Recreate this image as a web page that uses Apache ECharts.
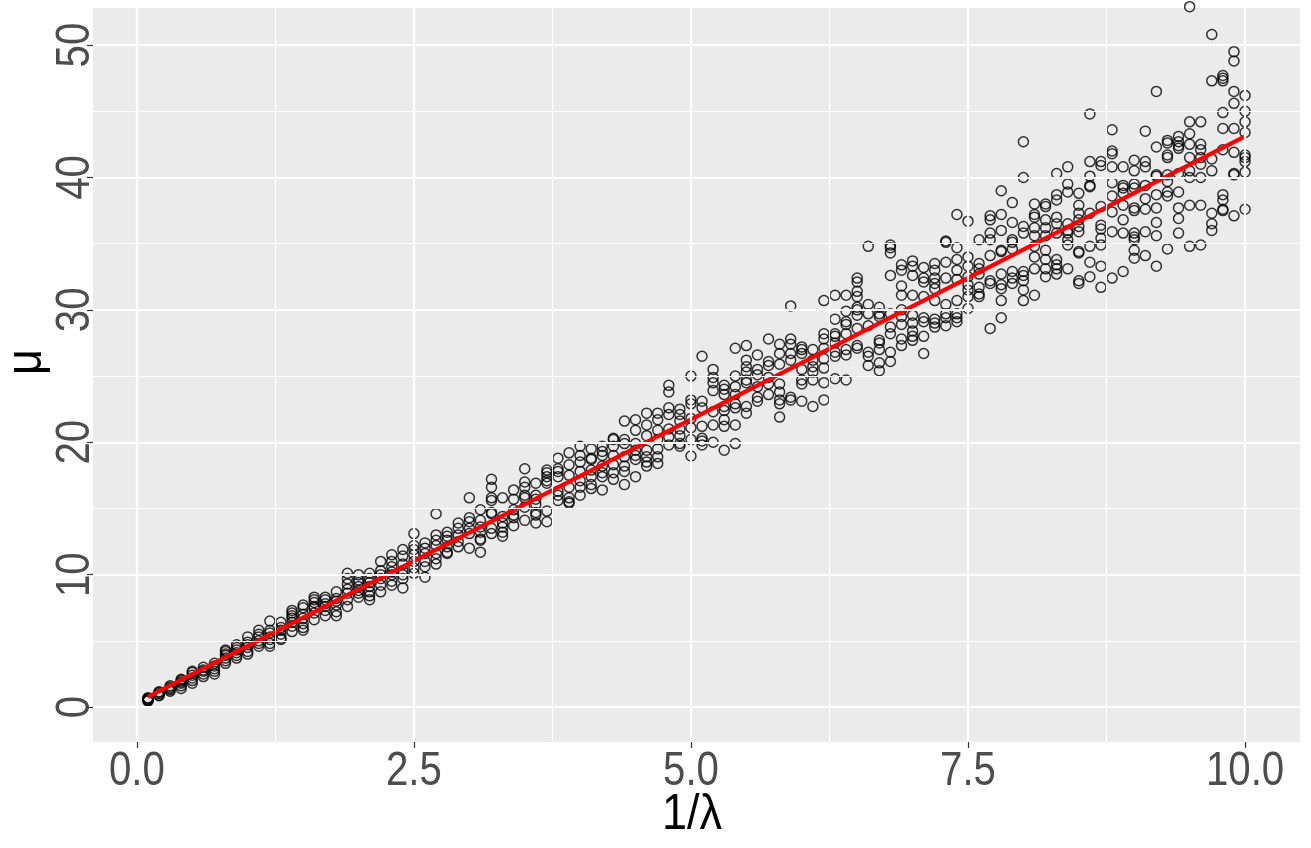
<!DOCTYPE html>
<html>
<head>
<meta charset="utf-8">
<title>mu vs 1/lambda</title>
<script src="https://cdn.jsdelivr.net/npm/echarts@6.0.0/dist/echarts.min.js"></script>
<style>
html,body{margin:0;padding:0;background:#fff;}
#main{width:1311px;height:848px;}
</style>
</head>
<body>
<div id="main"></div>
<script>
// x positions of the point columns (1/lambda)
var lambdaInv = [0.1,0.2,0.3,0.4,0.5,0.6,0.7,0.8,0.9,1.0,
    1.1,1.2,1.3,1.4,1.5,1.6,1.7,1.8,1.9,2.0,
    2.1,2.2,2.3,2.4,2.5,2.6,2.7,2.8,2.9,3.0,
    3.1,3.2,3.3,3.4,3.5,3.6,3.7,3.8,3.9,4.0,
    4.1,4.2,4.3,4.4,4.5,4.6,4.7,4.8,4.9,5.0,
    5.1,5.2,5.3,5.4,5.5,5.6,5.7,5.8,5.9,6.0,
    6.1,6.2,6.3,6.4,6.5,6.6,6.7,6.8,6.9,7.0,
    7.1,7.2,7.3,7.4,7.5,7.6,7.7,7.8,7.9,8.0,
    8.1,8.2,8.3,8.4,8.5,8.6,8.7,8.8,8.9,9.0,
    9.1,9.2,9.3,9.4,9.5,9.6,9.7,9.8,9.9,10.0];

// mu values
var muValues = [
    [0.45,0.5,0.55,0.6,0.65,0.7],
    [0.85,0.9,1.0,1.1,1.15],
    [1.2,1.3,1.4,1.5,1.6],
    [1.4,1.6,1.8,1.9,2.0,2.1],
    [1.8,2.0,2.2,2.4,2.6,2.7],
    [2.3,2.5,2.7,2.8,3.0],
    [2.5,2.7,2.9,3.1,3.3],
    [3.3,3.5,3.7,3.9,4.0,4.2,4.3],
    [3.7,3.9,4.1,4.3,4.5,4.7],
    [4.0,4.2,4.5,4.7,4.9,5.3],
    [4.6,4.8,5.0,5.3,5.5,5.8],
    [4.6,4.8,5.1,5.3,5.6,5.8,6.5],
    [5.1,5.2,5.5,5.8,6.0,6.4],
    [5.7,6.1,6.4,6.7,6.9,7.1,7.3],
    [5.8,6.0,6.3,6.7,7.0,7.5,7.7],
    [6.6,7.1,7.5,7.6,7.9,8.1,8.3],
    [6.9,7.3,7.6,7.8,8.1,8.3],
    [6.9,7.2,7.7,8.0,8.2,8.7],
    [7.6,8.1,8.6,8.9,9.3,9.7,10.1],
    [8.3,8.6,8.8,9.1,9.4,9.6,10.0],
    [8.1,8.4,8.7,9.1,9.4,9.7,10.1],
    [8.7,9.2,9.7,10.0,10.3,11.0],
    [9.2,9.5,10.0,10.2,10.6,11.0,11.5],
    [9.0,9.7,10.0,10.3,10.8,11.4,11.9],
    [10.1,10.5,11.0,11.5,11.9,12.2,13.1],
    [9.8,10.6,11.0,11.6,12.0,12.4],
    [10.8,11.2,11.6,12.2,12.6,13.0,14.6],
    [11.6,11.7,12.1,12.6,12.9,13.2],
    [12.1,12.5,13.0,13.5,13.9],
    [12.0,13.1,13.5,14.0,14.3,15.8],
    [11.7,12.6,12.7,13.2,13.6,14.1,14.9],
    [13.1,13.5,14.6,14.7,15.6,15.8,16.6,17.2],
    [12.9,13.2,13.6,13.9,14.4,15.8],
    [13.7,14.3,14.5,14.9,15.7,16.4],
    [14.1,15.1,15.8,16.0,16.6,17.0,18.0],
    [13.9,14.5,14.7,15.3,15.7,16.0,16.9],
    [14.0,14.8,16.9,17.1,17.4,17.7,17.9],
    [15.6,16.0,16.3,17.4,17.8,18.0,18.8],
    [15.4,15.5,15.8,16.6,17.5,18.3,19.2],
    [16.0,16.6,17.1,17.8,18.5,19.0,19.7],
    [16.5,16.8,17.4,17.9,18.7,18.8,19.5],
    [16.4,17.4,17.7,18.2,19.0,19.3,19.7],
    [17.2,17.7,18.3,19.0,19.7,20.2,20.3],
    [16.8,17.8,18.2,18.9,19.9,20.2,21.6],
    [17.4,18.7,19.0,19.4,19.9,20.9,21.7],
    [18.2,18.5,18.9,19.4,20.5,21.3,22.2],
    [18.4,18.9,19.5,20.2,20.9,21.7,22.2],
    [19.8,20.4,21.0,22.1,22.6,23.8,24.3],
    [19.7,19.9,20.5,21.0,21.6,22.1,22.5],
    [18.96,20.2,21.1,21.8,22.9,23.2,25.0],
    [19.8,20.1,20.3,21.2,22.6,23.1,26.5],
    [20.0,21.3,22.3,23.9,24.5,24.9,25.5],
    [19.4,21.2,21.7,22.4,22.7,23.6,24.0,24.3],
    [19.9,21.3,22.6,22.9,23.6,24.2,25.0,27.1],
    [22.2,22.7,24.5,24.7,25.3,25.7,26.2,27.3],
    [23.1,23.4,24.2,25.1,25.5,26.6],
    [23.6,24.4,24.9,25.8,26.1,27.8],
    [21.9,22.9,23.2,23.8,24.4,25.9,26.7,27.4],
    [23.2,23.4,26.2,26.7,27.4,27.8,30.3],
    [23.1,24.4,24.7,25.5,26.7,27.0,27.2],
    [22.7,24.7,25.3,25.7,26.2,27.0],
    [23.2,24.5,25.6,26.3,27.1,27.8,28.2,30.7],
    [24.8,26.5,26.8,27.5,28.0,28.2,29.3,31.1],
    [24.7,26.6,27.0,28.2,28.9,29.1,29.9,31.1],
    [27.1,27.3,28.6,29.6,30.0,30.2,31.0,31.4,32.1,32.4],
    [25.8,26.5,26.8,28.8,29.7,30.4,34.8],
    [25.4,26.0,27.0,27.5,27.7,29.5,29.7,30.2],
    [26.1,26.8,28.2,28.7,29.7,32.6,34.3,34.7,34.9],
    [27.3,27.8,28.9,29.5,30.0,31.1,31.8,33.0,33.4],
    [27.7,28.0,28.4,29.0,29.6,31.1,32.6,33.3,33.7],
    [26.7,28.0,29.1,29.4,31.0,32.1,32.4,33.2],
    [28.7,29.0,29.3,30.7,31.6,32.0,32.4,33.0,33.5],
    [28.8,29.4,29.7,30.4,32.4,33.6,35.1,35.2],
    [29.1,29.4,29.7,30.7,32.3,33.0,33.8,34.7,37.2],
    [30.1,31.0,31.5,31.9,32.5,33.3,34.0,36.7],
    [31.0,31.2,31.7,32.7,33.1,33.5,35.3],
    [28.6,32.0,32.2,34.1,35.3,35.8,36.8,37.1],
    [29.4,30.7,31.6,31.9,32.7,34.4,34.5,36.0,37.2,39.0],
    [32.0,32.4,32.9,34.6,35.1,35.3,36.6,38.1],
    [30.7,31.5,32.2,32.6,32.9,35.8,36.3,40.0,42.7],
    [31.1,33.1,34.0,34.8,35.6,36.2,37.0,37.2,38.0],
    [32.5,33.1,33.8,34.5,35.6,36.2,36.8,37.8,38.0],
    [32.7,33.1,33.4,33.8,35.8,36.5,37.0,38.3,38.7,40.3],
    [33.1,34.9,35.3,35.8,36.0,36.5,38.9,39.5,40.8],
    [32.0,32.2,34.3,34.4,35.9,36.3,36.8,37.3,37.9,38.8],
    [32.5,33.6,34.8,37.3,39.3,39.4,40.1,41.2,44.8],
    [31.7,33.3,34.9,35.4,36.1,36.4,37.8,40.9,41.2],
    [32.4,35.9,37.4,38.6,39.6,40.8,41.8,42.0,43.6],
    [32.9,35.8,36.8,37.9,38.8,39.2,39.4,40.8],
    [33.9,34.5,35.3,35.5,35.8,37.5,37.7,39.2,39.5,40.5,41.3],
    [34.1,35.9,37.6,38.4,39.4,40.8,41.2,43.5],
    [33.3,35.6,36.6,37.7,38.7,40.1,40.2,42.3,46.5],
    [34.6,38.6,38.9,39.7,40.2,41.5,41.7,42.6,42.8],
    [35.8,36.9,37.7,38.9,40.3,42.2,42.4,42.7,43.1],
    [34.8,37.9,40.0,40.5,41.5,42.5,43.3,44.2,52.9],
    [34.9,37.9,40.0,41.0,41.5,42.1,42.5,44.2],
    [36.0,36.5,37.3,40.5,41.4,47.3,50.8],
    [37.5,37.6,38.3,38.7,42.1,43.7,44.9,47.3,47.5,47.7],
    [37.1,40.2,40.3,41.9,43.7,45.6,46.5,48.8,49.5],
    [37.6,40.4,41.2,41.5,41.7,43.4,44.2,45.0,46.2]
];

// fitted line end points
var fitX = [0.1, 10.0];
var fitY = [0.77, 43.1];

// ticks / grid
var xTicks = [0, 2.5, 5, 7.5, 10];
var xMinor = [1.25, 3.75, 6.25, 8.75];
var yTicks = [0, 10, 20, 30, 40, 50];
var yMinor = [5, 15, 25, 35, 45];

var FONT = "'Liberation Sans', Arial, sans-serif";
var NARROW = 0.82; // tick labels in the picture are condensed

var points = [];
for (var i = 0; i < lambdaInv.length; i++) {
    for (var j = 0; j < muValues[i].length; j++) {
        points.push([lambdaInv[i], muValues[i][j]]);
    }
}
var fitLine = [];
for (var k = 0; k < fitX.length; k++) {
    fitLine.push([fitX[k], fitY[k]]);
}

var gridLines = [];
xTicks.forEach(function (v) { gridLines.push({xAxis: v, lineStyle: {width: 2.2}}); });
xMinor.forEach(function (v) { gridLines.push({xAxis: v, lineStyle: {width: 1.1}}); });
yTicks.forEach(function (v) { gridLines.push({yAxis: v, lineStyle: {width: 2.2}}); });
yMinor.forEach(function (v) { gridLines.push({yAxis: v, lineStyle: {width: 1.1}}); });

var myChart = echarts.init(document.getElementById('main'), null, {renderer: 'canvas'});

var option = {
    backgroundColor: '#ffffff',
    animation: false,
    grid: {
        left: 93,
        top: 8,
        width: 1207,
        height: 734,
        show: true,
        backgroundColor: '#EBEBEB',
        borderWidth: 0,
        containLabel: false,
        outerBoundsMode: 'none'
    },
    xAxis: {
        type: 'value',
        position: 'bottom',
        min: -0.396,
        max: 10.496,
        axisLine: {show: false, onZero: false},
        splitLine: {show: false},
        axisTick: {show: true, inside: false, customValues: xTicks, length: 6, lineStyle: {color: '#333', width: 1.2}},
        axisLabel: {show: false}
    },
    yAxis: {
        type: 'value',
        position: 'left',
        min: -2.64,
        max: 52.8,
        axisLine: {show: false, onZero: false},
        splitLine: {show: false},
        axisTick: {show: true, inside: false, customValues: yTicks, length: 6, lineStyle: {color: '#333', width: 1.2}},
        axisLabel: {show: false}
    },
    series: [
        {
            name: 'grid',
            type: 'scatter',
            data: [],
            z: 1,
            silent: true,
            markLine: {
                silent: true,
                symbol: 'none',
                label: {show: false},
                lineStyle: {color: '#ffffff', type: 'solid'},
                data: gridLines
            }
        },
        {
            name: 'mu',
            type: 'scatter',
            data: points,
            z: 3,
            clip: false,
            symbol: 'circle',
            symbolSize: 10,
            itemStyle: {color: 'rgba(0,0,0,0)', borderColor: '#000', borderWidth: 1.5}
        },
        {
            name: 'fit',
            type: 'line',
            data: fitLine,
            z: 4,
            symbol: 'none',
            lineStyle: {color: '#FF0000', width: 4.2}
        }
    ]
};

myChart.setOption(option);

// tick labels and axis titles, narrowed like the picture
var texts = [];
xTicks.forEach(function (v) {
    var p = myChart.convertToPixel({gridIndex: 0}, [v, 0]);
    texts.push({
        type: 'text', x: p[0], y: 771, scaleX: NARROW, silent: true,
        style: {text: v.toFixed(1), fill: '#4D4D4D', font: '49px ' + FONT, textAlign: 'center', textVerticalAlign: 'middle'}
    });
});
yTicks.forEach(function (v) {
    var p = myChart.convertToPixel({gridIndex: 0}, [0, v]);
    texts.push({
        type: 'text', x: 75, y: p[1], rotation: Math.PI / 2, scaleX: NARROW, silent: true,
        style: {text: String(v), fill: '#4D4D4D', font: '49px ' + FONT, textAlign: 'center', textVerticalAlign: 'middle'}
    });
});
texts.push({
    type: 'text', x: 692, y: 815, scaleX: 0.9, silent: true,
    style: {text: '1/\u03bb', fill: '#000', font: '50px ' + FONT, textAlign: 'center', textVerticalAlign: 'middle'}
});
texts.push({
    type: 'text', x: 27, y: 362, rotation: Math.PI / 2, scaleX: 0.9, silent: true,
    style: {text: '\u03bc', fill: '#000', font: '50px ' + FONT, textAlign: 'center', textVerticalAlign: 'middle'}
});

myChart.setOption({graphic: {elements: texts}});
</script>
</body>
</html>
